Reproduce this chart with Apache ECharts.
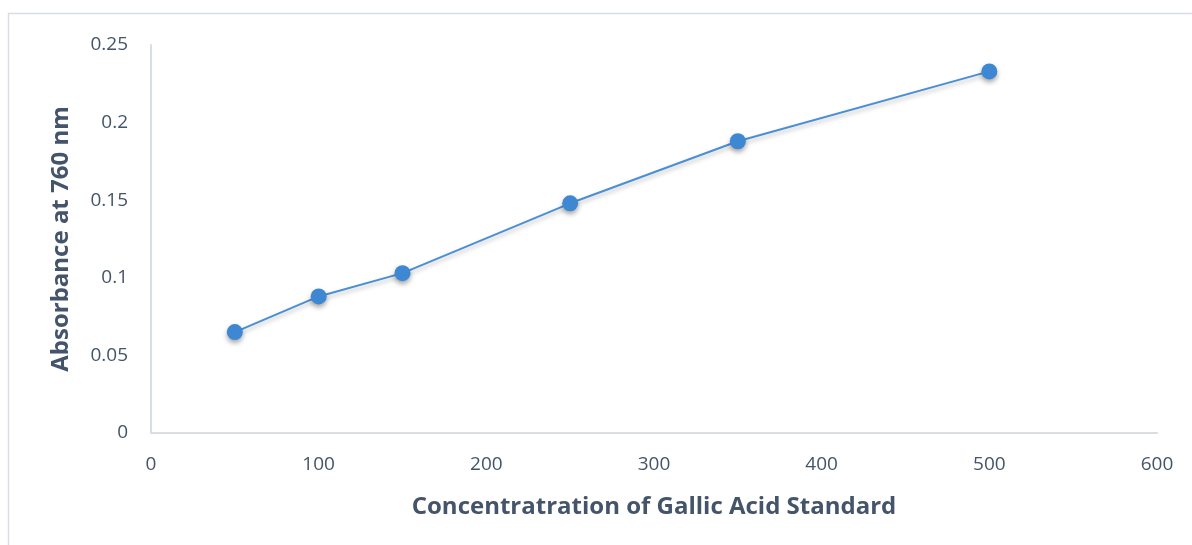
<!DOCTYPE html>
<html>
<head>
<meta charset="utf-8">
<script src="https://cdn.jsdelivr.net/npm/echarts@6/dist/echarts.min.js"></script>
<style>
  html, body { margin: 0; padding: 0; background: #fff; }
  #chart { width: 1192px; height: 545px; }
</style>
</head>
<body>
<div id="chart"></div>
<script>
// Gallic acid standard curve
const concentrations = [50, 100, 150, 250, 350, 500];
const absorbance = [0.065, 0.088, 0.103, 0.148, 0.188, 0.233];
const xTitle = "Concentratration of Gallic Acid Standard";
const yTitle = "Absorbance at 760 nm";

const textColor = "#44546a";
const axisColor = "#d9dde6";
const font = "'Open Sans', sans-serif";

const chart = echarts.init(document.getElementById("chart"));
chart.setOption({
  backgroundColor: "#fff",
  animation: false,
  graphic: [{
    type: "rect",
    shape: { x: 8.5, y: 13.5, width: 1300, height: 600 },
    style: { fill: "none", stroke: axisColor, lineWidth: 1.5 },
    silent: true
  }],
  grid: { left: 151, right: 35, top: 45, bottom: 112 },
  xAxis: {
    type: "value",
    min: 0, max: 600, interval: 100,
    name: xTitle,
    nameLocation: "middle",
    nameGap: 62,
    nameTextStyle: { color: textColor, fontFamily: font, fontSize: 24, fontWeight: "bold" },
    axisLine: { show: true, lineStyle: { color: axisColor, width: 2 } },
    axisTick: { show: false },
    splitLine: { show: false },
    axisLabel: { color: textColor, fontFamily: font, fontSize: 19, margin: 22 }
  },
  yAxis: {
    type: "value",
    min: 0, max: 0.25, interval: 0.05,
    name: yTitle,
    nameLocation: "middle",
    nameGap: 78,
    nameTextStyle: { color: textColor, fontFamily: font, fontSize: 24, fontWeight: "bold" },
    axisLine: { show: true, lineStyle: { color: axisColor, width: 2 } },
    axisTick: { show: false },
    splitLine: { show: false },
    axisLabel: { color: textColor, fontFamily: font, fontSize: 19, margin: 23 }
  },
  series: [{
    type: "line",
    data: concentrations.map((c, i) => [c, absorbance[i]]),
    symbol: "circle",
    symbolSize: 16,
    lineStyle: { color: "#4a8fd6", width: 2, shadowColor: "rgba(0,0,0,0.25)", shadowBlur: 4, shadowOffsetY: 3 },
    itemStyle: { color: "#3d87d3", shadowColor: "rgba(0,0,0,0.35)", shadowBlur: 5, shadowOffsetY: 3 }
  }]
});
</script>
</body>
</html>
